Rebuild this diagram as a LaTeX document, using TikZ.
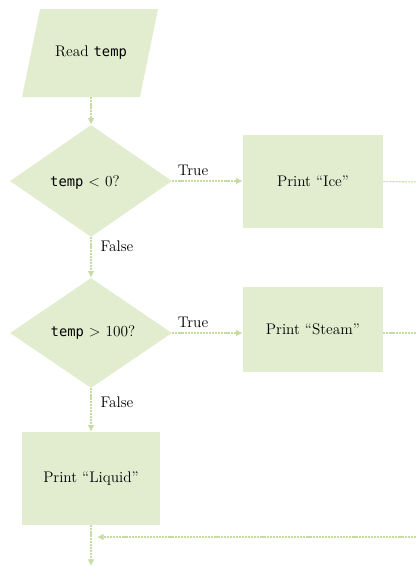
\documentclass[tikz,border=0pt]{standalone}
\usepackage{fontspec}
\newfontfamily\codefont{DejaVu Sans Mono}[Scale=0.9]
\usetikzlibrary{shapes.geometric,arrows.meta}
\definecolor{boxfill}{RGB}{226,237,208}
\definecolor{linecol}{RGB}{198,220,162}
\tikzset{
  procbox/.style={fill=boxfill, draw=none, minimum width=140*0.75pt, minimum height=93*0.75pt, inner sep=0pt},
  decision/.style={diamond, fill=boxfill, draw=none, inner sep=0pt, aspect=1.45},
  flow/.style={draw=linecol, line width=0.8pt, dash pattern=on 1.6pt off 0.7pt, -{Latex[length=5pt,width=5pt]}},
  flowplain/.style={draw=linecol, line width=0.8pt, dash pattern=on 1.6pt off 0.7pt},
  lbl/.style={font=\fontsize{11.5}{13}\selectfont, inner sep=0pt},
  every node/.append style={font=\fontsize{11.5}{13}\selectfont}
}
\begin{document}
\begin{tikzpicture}[x=0.75pt,y=-0.75pt]
\useasboundingbox (0,0) rectangle (416,569);
% parallelogram
\fill[boxfill] (40,9) -- (158,9) -- (140,97) -- (22,97) -- cycle;
\node[minimum width=118*0.75pt, minimum height=88*0.75pt, inner sep=0pt] (read) at (91,53) {Read {\codefont temp}};
\node[decision, minimum width=162*0.75pt, minimum height=112*0.75pt] (d1) at (91,181) {};
\node at (85,183) {{\codefont temp} < 0?};
\node[procbox] (ice) at (313,181.5) {Print “Ice”};
\node[decision, minimum width=162*0.75pt, minimum height=110*0.75pt] (d2) at (91,333) {};
\node at (93,333) {{\codefont temp} > 100?};
\node[procbox, minimum height=85*0.75pt] (steam) at (313,329.5) {Print “Steam”};
\node[procbox, minimum width=138*0.75pt] (liquid) at (91,478.5) {Print “Liquid”};
\coordinate (endpt) at (91,566);
\coordinate (joinr) at (97,537);
\coordinate (rail) at (422,182);
\node[lbl] (t1) at (193,170) {True};
\node[lbl] (t2) at (193,322) {True};
\node[lbl] (f1) at (117,246) {False};
\node[lbl] (f2) at (117,402) {False};
% connectors
\draw[flow] (read.south) -- (d1.north);
\draw[flow] (d1.east) -- (d1.east -| ice.west);
\draw[flow] (d1.south) -- (d2.north);
\draw[flow] (d2.east) -- (d2.east -| steam.west);
\draw[flow] (d2.south) -- (liquid.north);
\draw[flow] (liquid.south) -- (endpt);
\draw[flowplain] (ice.east) -- (rail);
\draw[flowplain] (d2.east -| steam.east) -- (d2.east -| rail);
\draw[flow] (rail |- joinr) -- (joinr);
\end{tikzpicture}
\end{document}
